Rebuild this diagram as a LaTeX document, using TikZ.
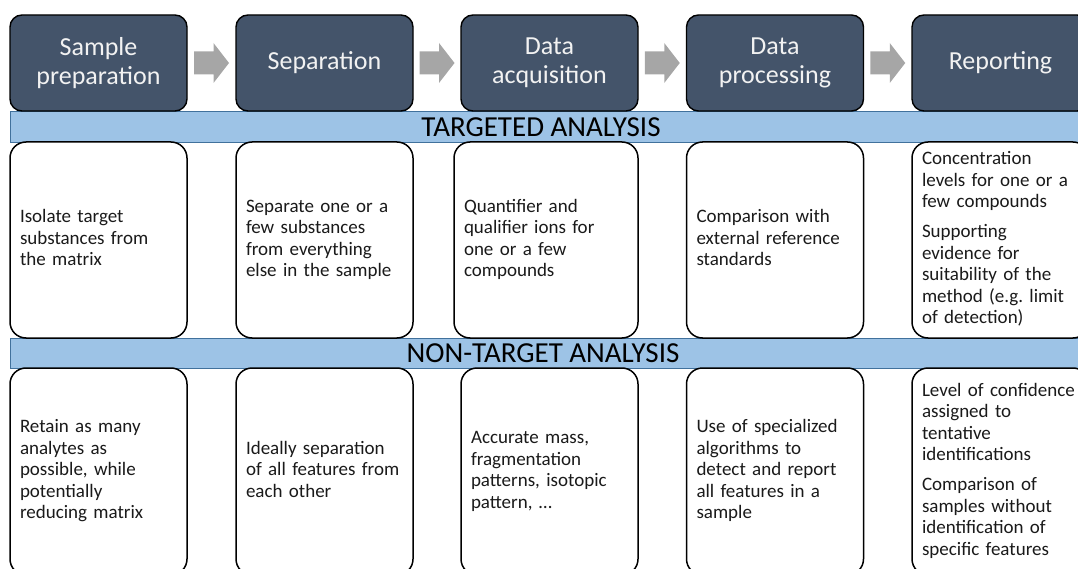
\documentclass[tikz,border=0pt]{standalone}
\usepackage{fontspec}
\setmainfont{Carlito}
\frenchspacing
\usetikzlibrary{calc}

\definecolor{headfill}{HTML}{44546A}
\definecolor{headtext}{HTML}{F2F2F2}
\definecolor{bandfill}{HTML}{9DC3E6}
\definecolor{bandline}{HTML}{41719C}
\definecolor{arrowgray}{HTML}{A6A6A6}
\definecolor{bodytext}{HTML}{1A1A1A}

% lines of a cell, kept exactly as broken
\newcommand{\boxlines}[1]{\begin{tabular}{@{}l@{}}#1\end{tabular}}

\tikzset{
  stage/.style={draw=black, line width=1.4pt, fill=headfill, rounded corners=12pt,
    text=headtext, align=center, font=\fontsize{26}{29}\selectfont,
    minimum width=177pt, minimum height=96pt, inner sep=0pt},
  band/.style={draw=bandline, line width=1pt, fill=bandfill, inner sep=0pt,
    minimum width=1080pt, anchor=north west},
  bandlabel/.style={font=\fontsize{29}{32}\selectfont, text=black, inner sep=0pt},
  infobox/.style={draw=black, line width=1.5pt, fill=white, rounded corners=16pt,
    text=bodytext, align=left, text width=157pt, inner xsep=10pt, inner ysep=0pt,
    minimum width=177pt, font=\fontsize{19}{21.5}\selectfont},
  toprow/.style={infobox, minimum height=196pt},
  lowrow/.style={infobox, minimum height=207pt},
  flowarrow/.style={fill=arrowgray, draw=none},
}

\begin{document}
\begin{tikzpicture}[x=1pt, y=-1pt]
  \useasboundingbox (0,0) rectangle (1078,569);
  \clip (0,0) rectangle (1078,569);

  % section bands
  \node[band, minimum height=31pt] (band1) at (10,111) {};
  \node[band, minimum height=30pt] (band2) at (10,338) {};
  \node[bandlabel] (lab1) at (541,127) {TARGETED ANALYSIS};
  \node[bandlabel] (lab2) at (543,353) {NON-TARGET ANALYSIS};

  % workflow stages
  \node[stage] (h1) at (98.5,63)  {Sample\\preparation};
  \node[stage] (h2) at (324.5,63) {Separation};
  \node[stage] (h3) at (549.5,63) {Data\\acquisition};
  \node[stage] (h4) at (775,63)   {Data\\processing};
  \node[stage] (h5) at (1000.5,63){Reporting};

  % block arrows between stages
  \foreach \a/\b in {h1/h2, h2/h3, h3/h4, h4/h5}{
    \coordinate (m-\a) at ($(\a.east)!0.5!(\b.west)$);
    \fill[flowarrow] ($(m-\a)+(-17.5,-11.5)$) -- ++(19.5,0) -- ++(0,-8.5)
      -- ++(15.5,20) -- ++(-15.5,20) -- ++(0,-8.5) -- ++(-19.5,0) -- cycle;
  }

  % targeted analysis
  \node[toprow] (t1) at (98.5,240) {\boxlines{Isolate target\\substances from\\the matrix}};
  \node[toprow] (t2) at (324.5,240) {\boxlines{Separate one or a\\few substances\\from everything\\else in the sample}};
  \node[toprow, minimum width=184pt, text width=164pt] (t3) at (546,240)
    {\boxlines{Quantifier and\\qualifier ions for\\one or a few\\compounds}};
  \node[toprow] (t4) at (775,240) {\boxlines{Comparison with\\external reference\\standards}};
  \node[toprow] (t5) at (1000.5,240) {\boxlines{Concentration\\levels for one or a\\few compounds\\[8.5pt]
    Supporting\\evidence for\\suitability of the\\method (e.g. limit\\of detection)}};

  % non-target analysis
  \node[lowrow] (n1) at (98.5,471.5) {\boxlines{Retain as many\\analytes as\\possible, while\\potentially\\reducing matrix}};
  \node[lowrow] (n2) at (324.5,471.5) {\boxlines{Ideally separation\\of all features from\\each other}};
  \node[lowrow] (n3) at (549.5,471.5) {\boxlines{Accurate mass,\\fragmentation\\patterns, isotopic\\pattern, …}};
  \node[lowrow] (n4) at (775,471.5) {\boxlines{Use of specialized\\algorithms to\\detect and report\\all features in a\\sample}};
  \node[lowrow] (n5) at (1000.5,471.5) {\boxlines{Level of confidence\\assigned to\\tentative\\identifications\\[8.5pt]
    Comparison of\\samples without\\identification of\\specific features}};
\end{tikzpicture}
\end{document}
